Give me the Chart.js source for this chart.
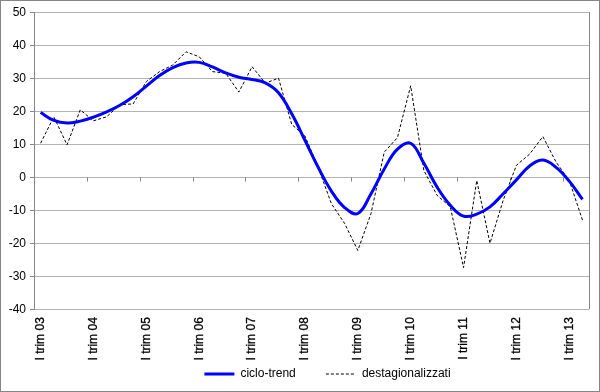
<!DOCTYPE html>
<html>
<head>
<meta charset="utf-8">
<script src="https://cdn.jsdelivr.net/npm/chart.js@4.4.0/dist/chart.umd.min.js"></script>
<style>
  body { margin: 0; background: #fff; }
  #wrap { width: 600px; height: 392px; box-sizing: border-box; border: 1px solid #868686; }
  canvas { display: block; }
</style>
</head>
<body>
<div id="wrap"><canvas id="chart" width="598" height="390"></canvas></div>
<script>
// anni e trimestri (2003 I trim -> 2013 II trim)
var years = ['03', '04', '05', '06', '07', '08', '09', '10', '11', '12', '13'];
var quarters = ['I', 'II', 'III', 'IV'];
var nPoints = 42;

// ciclo-trend
var cicloTrend = [19.6, 17.2, 16.4, 17.0, 18.2, 19.8, 21.8, 24.4, 27.6, 30.8, 33.2, 34.6,
  34.8, 33.4, 31.6, 30.3, 29.6, 28.6, 25.6, 19.2, 11.2, 3, -4.2, -9.2, -11, -5, 2.5, 8.5,
  10.3, 4.2, -3, -8.5, -11.8, -11.2, -9, -5, -0.8, 3.4, 5.2, 3, -1.2, -6.7];

// destagionalizzati
var destag = [10.3, 18.3, 9.8, 20.4, 17.1, 18.3, 22, 22.2, 29, 32, 34, 38,
  36.5, 32, 31.5, 25.8, 33.5, 28.5, 30, 16, 12.5, 3, -8, -14, -22.2, -11, 7.6, 12,
  27.7, 2, -5.5, -9, -27.4, -1, -20, -7, 3.6, 7, 12.3, 4.6, -1, -13];

var labels = [];
years.forEach(function(y) {
  quarters.forEach(function(q) { labels.push(q + ' trim ' + y); });
});
labels = labels.slice(0, nPoints);

var font = { family: 'Liberation Sans, Arial, sans-serif', size: 12 };

// tacche sull'asse a quota zero e bordo destro dell'area del grafico
var axisExtras = {
  id: 'axisExtras',
  afterLayout: function(chart) {
    chart.legend.left += 32;
    chart.legend.right += 32;
    chart.legend.top -= 1;
    chart.legend.bottom -= 1;
  },
  beforeDatasetsDraw: function(chart) {
    var ctx = chart.ctx, x = chart.scales.x, y = chart.scales.y;
    var area = chart.chartArea;
    ctx.save();
    ctx.strokeStyle = '#868686';
    ctx.lineWidth = 1;
    ctx.beginPath();
    ctx.moveTo(Math.round(area.right) + 0.5, area.top);
    ctx.lineTo(Math.round(area.right) + 0.5, area.bottom);
    var y0 = Math.round(y.getPixelForValue(0)) + 0.5;
    for (var i = 4; i < nPoints; i += 4) {
      var px = Math.round((x.getPixelForValue(i - 1) + x.getPixelForValue(i)) / 2) + 0.5;
      ctx.moveTo(px, y0);
      ctx.lineTo(px, y0 + 4);
    }
    ctx.stroke();
    ctx.restore();
  }
};

new Chart(document.getElementById('chart').getContext('2d'), {
  type: 'line',
  data: {
    labels: labels,
    datasets: [{
      label: 'ciclo-trend',
      data: cicloTrend,
      borderColor: '#0000ff',
      backgroundColor: '#0000ff',
      borderWidth: 3,
      pointRadius: 0,
      tension: 0.4,
      fill: false
    }, {
      label: 'destagionalizzati',
      data: destag,
      borderColor: '#000000',
      backgroundColor: '#000000',
      borderWidth: 1,
      borderDash: [3, 2],
      pointRadius: 0,
      tension: 0,
      fill: false
    }]
  },
  options: {
    responsive: false,
    animation: false,
    layout: { padding: { top: 9, right: 9, left: 0, bottom: 0 } },
    plugins: {
      tooltip: { enabled: false },
      legend: {
        position: 'bottom',
        labels: {
          font: font,
          color: '#000',
          usePointStyle: true,
          pointStyle: 'line',
          pointStyleWidth: 30,
          boxWidth: 30,
          boxHeight: 12,
          padding: 6.8,
          generateLabels: function(chart) {
            var items = Chart.defaults.plugins.legend.labels.generateLabels(chart);
            items.forEach(function(item) {
              item.lineDash = chart.data.datasets[item.datasetIndex].borderDash || [];
            });
            items[0].text = items[0].text + '       ';
            return items;
          }
        }
      }
    },
    scales: {
      x: {
        offset: true,
        grid: { display: false, drawTicks: true, tickLength: 6 },
        border: { display: false },
        afterFit: function(scale) { scale.height = 53; },
        ticks: {
          font: font,
          color: '#000',
          textStrokeColor: '#000',
          textStrokeWidth: 0.3,
          autoSkip: false,
          maxRotation: 90,
          minRotation: 90,
          padding: 2,
          callback: function(value, index) {
            return index % 4 === 0 ? labels[index] : '';
          }
        }
      },
      y: {
        min: -40,
        max: 50,
        afterFit: function(scale) { scale.width = 33; },
        grid: { color: '#b3b3b3', drawTicks: true, tickLength: 4, tickColor: '#868686' },
        border: { color: '#868686' },
        ticks: { font: font, color: '#000', stepSize: 10, padding: 4 }
      }
    }
  },
  plugins: [axisExtras]
});
</script>
</body>
</html>
